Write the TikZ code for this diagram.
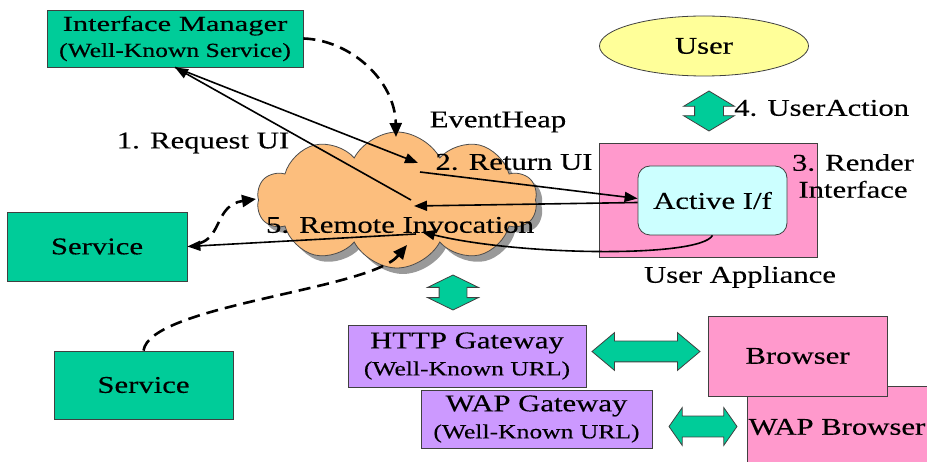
\documentclass[tikz,border=0pt]{standalone}
\usepackage{fontspec}
\setmainfont{Liberation Serif}[FakeStretch=1.28, FakeBold=0.3]
\newfontfamily\imfamily{Liberation Serif}[FakeStretch=1.42, FakeBold=0.3]
\usepackage{xcolor}
\usepackage{tikz}
\usetikzlibrary{shapes,arrows,positioning,calc,arrows.meta,shadows}
\definecolor{svcgreen}{RGB}{0,204,153}
\definecolor{gwpurple}{RGB}{204,153,255}
\definecolor{devpink}{RGB}{255,153,204}
\definecolor{ifcyan}{RGB}{204,255,255}
\definecolor{useryellow}{RGB}{255,255,153}
\definecolor{heaporange}{RGB}{252,190,125}
\newcommand{\boxfont}{\fontsize{24}{27}\selectfont}
\newcommand{\notefont}{\fontsize{20}{24}\selectfont}
\newcommand{\imfont}{\imfamily\fontsize{21.5}{25}\selectfont}
\tikzstyle{box} = [rectangle, draw=black!75, line width=0.8pt, inner sep=0pt, align=center, font=\boxfont]
\tikzstyle{txt} = [inner sep=0pt, align=center, font=\boxfont]
\tikzstyle{arrow} = [-{Triangle[length=13pt,width=10pt]}, line width=1.6pt]
\tikzstyle{dasharrow} = [-{Triangle[length=14pt,width=12pt]}, line width=2.6pt, dash pattern=on 12pt off 7pt]
\tikzstyle{blockarrow} = [double arrow, draw=black!75, line width=0.8pt, fill=svcgreen, inner xsep=0pt]

\begin{document}
\begin{tikzpicture}[x=1pt, y=-1pt]
    \useasboundingbox (0,0) rectangle (927,462);

    % EventHeap cloud
    \node[cloud, cloud puffs=10, cloud puff arc=125, aspect=2, draw=black!70, line width=0.8pt, fill=heaporange, minimum width=280pt, minimum height=136pt, inner sep=0pt, drop shadow={shadow xshift=6pt, shadow yshift=-6pt, fill=black!40, opacity=1}] (eh) at (397,200) {};

    % Services
    \node[box, fill=svcgreen, minimum width=256pt, minimum height=57pt] (im) at (175,38.5) {{\imfont Interface Manager}\\[-1pt]{\notefont (Well-Known Service)}};
    \node[box, fill=svcgreen, minimum width=180pt, minimum height=69pt] (svc1) at (97,246.5) {Service};
    \node[box, fill=svcgreen, minimum width=179pt, minimum height=68pt] (svc2) at (143.5,385) {Service};

    % User side
    \node[ellipse, draw=black!75, line width=0.8pt, fill=useryellow, minimum width=209pt, minimum height=60pt, inner sep=0pt, font=\boxfont] (user) at (704,46) {User};
    \node[box, fill=devpink, minimum width=218pt, minimum height=114pt] (app) at (708,200) {};
    \node[box, fill=ifcyan, rounded corners=12pt, minimum width=149pt, minimum height=69pt] (act) at (712.5,200.5) {Active I/f};

    % Gateways and browsers
    \node[box, fill=gwpurple, minimum width=238pt, minimum height=62pt] (http) at (467,356) {HTTP Gateway\\{\notefont (Well-Known URL)}};
    \node[box, fill=gwpurple, minimum width=231pt, minimum height=58pt] (wapgw) at (536.5,419) {WAP Gateway\\{\notefont (Well-Known URL)}};
    \node[box, fill=devpink, minimum width=180pt, minimum height=82pt] (wapbr) at (837,427) {WAP Browser};
    \node[box, fill=devpink, minimum width=179pt, minimum height=80pt] (brow) at (797.5,356) {Browser};

    % Block arrows
    \node[blockarrow, rotate=90, minimum height=40pt, inner ysep=14pt, double arrow head extend=11pt, double arrow tip angle=118] (uact) at (709,111) {};
    \node[blockarrow, rotate=90, minimum height=35pt, inner ysep=13.5pt, double arrow head extend=11.5pt, double arrow tip angle=128] (ehgw) at (453,292.5) {};
    \node[blockarrow, minimum height=108pt, inner ysep=10pt, double arrow head extend=8.5pt, double arrow tip angle=80] (httpbr) at (646,351.5) {};
    \node[blockarrow, minimum height=68pt, inner ysep=10pt, double arrow head extend=8.5pt, double arrow tip angle=110] (wapbrar) at (703,426.5) {};

    % Points inside the heap
    \coordinate (rq1) at (414,206);
    \coordinate (rq2) at (411,200);
    \coordinate (rt1) at (418,163);
    \coordinate (rt2) at (420,172);
    \coordinate (ri1) at (422,232);
    \coordinate (ri2) at (416,234);
    \coordinate (ehtop) at (396,137);
    \coordinate (ehleft) at (256,199);
    \coordinate (ehbot) at (407,245);

    % Request / return / invocation
    \draw[arrow] ([yshift=-2pt]act.west) -- (rq1);
    \draw[arrow] (rq2) -- (im.south);
    \draw[arrow] (im.south) -- (rt1);
    \draw[arrow] (rt2) -- ([yshift=2pt]act.west);
    \draw[arrow] (act.south) .. controls (700,258) and (520,256) .. (ri1);
    \draw[arrow] (ri2) -- (svc1.east);

    % Registration with the heap
    \draw[dasharrow] (im.east) .. controls (350,40) and (395,80) .. (ehtop);
    \draw[dasharrow] ([xshift=11pt,yshift=3pt]svc1.east) .. controls (222,238) and (215,205) .. (ehleft);
    \draw[dasharrow] (svc2.north) .. controls (150,305) and (370,290) .. (ehbot);

    % Labels
    \node[txt] (req) at (203,143) {1. Request UI};
    \node[txt] (evh) at (498,122) {EventHeap};
    \node[txt] (ret) at (514,162) {2. Return UI};
    \node[txt] (rem) at (400,225) {5. Remote Invocation};
    \node[txt, anchor=west] (uac) at (734,108) {4. UserAction};
    \node[txt] (rnd) at (853,176) {3. Render\\Interface};
    \node[txt] (uap) at (740,277) {User Appliance};
\end{tikzpicture}
\end{document}
